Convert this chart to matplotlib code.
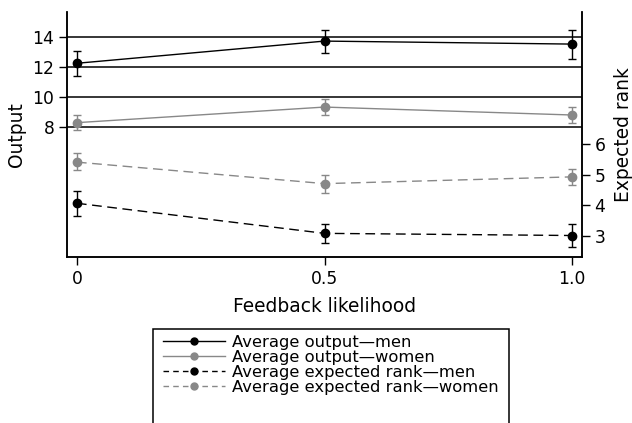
import matplotlib
matplotlib.use("Agg")
import matplotlib.pyplot as plt
from matplotlib.lines import Line2D
from matplotlib.patches import Rectangle

plt.rcParams['font.family'] = ['DejaVu Sans']

# data
feedback = [0, 0.5, 1.0]
output_men = [12.25, 13.73, 13.53]
output_men_lo = [11.4, 12.95, 12.55]
output_men_hi = [13.1, 14.5, 14.47]
output_women = [8.29, 9.33, 8.8]
output_women_lo = [7.8, 8.8, 8.29]
output_women_hi = [8.8, 9.85, 9.35]
rank_men = [4.07, 3.09, 3.02]
rank_men_lo = [3.66, 2.76, 2.63]
rank_men_hi = [4.46, 3.39, 3.39]
rank_women = [5.41, 4.71, 4.93]
rank_women_lo = [5.14, 4.41, 4.67]
rank_women_hi = [5.7, 5.0, 5.18]
labels = ['Average output\u2014men', 'Average output\u2014women',
          'Average expected rank\u2014men', 'Average expected rank\u2014women']

W, H = 632, 423
dpi = 100
GRAY = '#888888'

fig = plt.figure(figsize=(W / dpi, H / dpi), dpi=dpi)
ax = fig.add_axes([67 / W, (H - 257) / H, (582 - 67) / W, (257 - 12) / H])
ax2 = ax.twinx()


def errs(v, lo, hi):
    return [[a - b for a, b in zip(v, lo)], [b - a for a, b in zip(v, hi)]]


for y in [8, 10, 12, 14]:
    ax.axhline(y, color='black', lw=1.1, zorder=1)

common = dict(marker='o', ms=6, capsize=3, elinewidth=1, capthick=1, lw=1, zorder=3)
ax.errorbar(feedback, output_men, yerr=errs(output_men, output_men_lo, output_men_hi),
            color='black', **common)
ax.errorbar(feedback, output_women, yerr=errs(output_women, output_women_lo, output_women_hi),
            color=GRAY, **common)
e3 = ax2.errorbar(feedback, rank_men, yerr=errs(rank_men, rank_men_lo, rank_men_hi),
                  color='black', **common)
e3[0].set_dashes([7, 4])
e4 = ax2.errorbar(feedback, rank_women, yerr=errs(rank_women, rank_women_lo, rank_women_hi),
                  color=GRAY, **common)
e4[0].set_dashes([7, 4])

ax.set_xlim(-0.02, 1.02)
ax.set_ylim(-0.67, 15.67)
ax2.set_ylim(2.32, 10.3)

ax.set_xticks(feedback)
ax.set_xticklabels(['0', '0.5', '1.0'])
ax.set_yticks([8, 10, 12, 14])
ax2.set_yticks([3, 4, 5, 6])

for a in (ax, ax2):
    a.spines['top'].set_visible(False)
    for s in a.spines.values():
        s.set_linewidth(1.1)
    a.tick_params(labelsize=12.3, length=6, width=1, pad=3)

ax.set_ylabel('Output', fontsize=13.4, labelpad=5)
ax2.set_ylabel('Expected rank', fontsize=13.4, labelpad=6)
ax.set_xlabel('Feedback likelihood', fontsize=13.4, labelpad=7)

handles = [
    Line2D([], [], color='black', lw=1, marker='o', ms=5),
    Line2D([], [], color=GRAY, lw=1, marker='o', ms=5),
    Line2D([], [], color='black', lw=1, marker='o', ms=5, dashes=[4, 3]),
    Line2D([], [], color=GRAY, lw=1, marker='o', ms=5, dashes=[4, 3]),
]
fig.legend(handles, labels, loc='upper left', bbox_to_anchor=(163 / W, 1 - 335 / H),
           frameon=False, fontsize=11.8, handlelength=3.8, handletextpad=0.4,
           labelspacing=0.0, borderpad=0, borderaxespad=0)
fig.patches.append(Rectangle((153 / W, -0.05), (509 - 153) / W, 0.05 + (H - 329) / H,
                             transform=fig.transFigure, fill=False, ec='black', lw=1.1))

fig.savefig('out.png', dpi=dpi)
